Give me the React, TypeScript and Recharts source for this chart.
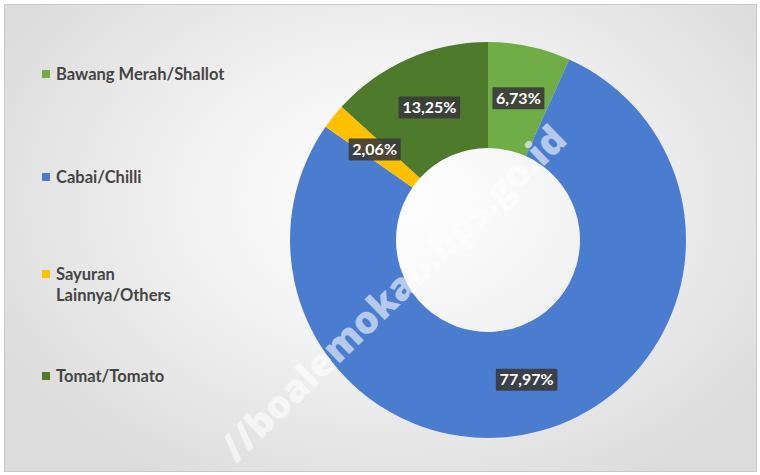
import { PieChart, Pie, Cell, Legend } from "recharts";

const categories = [
	"Bawang Merah/Shallot",
	"Cabai/Chilli",
	"Sayuran Lainnya/Others",
	"Tomat/Tomato",
];
const shares = [6.73, 77.97, 2.06, 13.25];
const colors = ["#70AD47", "#4A7DD0", "#FFC000", "#4E7A2C"];
const legendLines = [
	["Bawang Merah/Shallot"],
	["Cabai/Chilli"],
	["Sayuran", "Lainnya/Others"],
	["Tomat/Tomato"],
];

const data = categories.map((name, i) => ({ name, value: shares[i] }));

const RAD = Math.PI / 180;
const FONT = "Lato, 'Open Sans', sans-serif";

function renderLabel(props: any) {
	const { cx, cy, midAngle, innerRadius, outerRadius, value } = props;
	const r = (innerRadius + outerRadius) / 2;
	const x = cx + r * Math.cos(-midAngle * RAD);
	const y = cy + r * Math.sin(-midAngle * RAD);
	const text = value.toFixed(2).replace(".", ",") + "%";
	const w = text.length * 9.6 + 4;
	return (
		<g>
			<rect x={x - w / 2} y={y - 11} width={w} height={22} fill="#3a3a3a" fillOpacity={0.9} rx={1} />
			<text
				x={x}
				y={y + 5.5}
				textAnchor="middle"
				fill="#fff"
				fontFamily={FONT}
				fontWeight={700}
				fontSize={16}
			>
				{text}
			</text>
		</g>
	);
}

const legendTops = [63.5, 166.5, 263.5, 365.5];

function LegendBox(props: any) {
	const payload = props.payload || [];
	return (
		<div style={{ position: "relative", width: 0, height: 0 }}>
			{payload.map((entry: any, i: number) => (
				<div
					key={i}
					style={{
						position: "absolute",
						left: 42,
						top: legendTops[i],
						display: "flex",
						alignItems: "flex-start",
						whiteSpace: "nowrap",
					}}
				>
					<span
						style={{
							width: 8,
							height: 8,
							marginTop: 6.5,
							marginRight: 6,
							background: colors[i],
							display: "inline-block",
						}}
					/>
					<span
						style={{
							fontFamily: FONT,
							fontWeight: 700,
							fontSize: 16.5,
							lineHeight: "21px",
							color: "#454545",
						}}
					>
						{legendLines[i].map((l, j) => (
							<div key={j}>{l}</div>
						))}
					</span>
				</div>
			))}
		</div>
	);
}

export default function App() {
	return (
		<div
			style={{
				position: "fixed",
				left: 0,
				top: 0,
				width: 760,
				height: 475,
				background: "#fff",
				overflow: "hidden",
			}}
		>
			<div
				style={{
					position: "absolute",
					left: 4,
					top: 4,
					width: 751,
					height: 466,
					border: "1px solid #c8c8c8",
					background:
						"radial-gradient(ellipse 60% 70% at 52% 42%, #ffffff 0%, #f4f4f4 40%, #dcdcdc 100%)",
				}}
			/>
			<div style={{ position: "absolute", left: 0, top: 0 }}>
				<PieChart width={760} height={475} margin={{ top: 0, right: 0, bottom: 0, left: 0 }}>
					<Pie
						data={data}
						dataKey="value"
						nameKey="name"
						cx={488}
						cy={240}
						innerRadius={92}
						outerRadius={198}
						startAngle={90}
						endAngle={-270}
						stroke="none"
						label={renderLabel}
						labelLine={false}
						isAnimationActive={false}
					>
						{data.map((d, i) => (
							<Cell key={d.name} fill={colors[i]} />
						))}
					</Pie>
					<Legend
						layout="vertical"
						align="left"
						verticalAlign="top"
						content={<LegendBox />}
						wrapperStyle={{ left: 0, top: 0, width: 0, height: 0 }}
					/>
				</PieChart>
			</div>
			<div
				style={{
					position: "absolute",
					left: 392,
					top: 292,
					transform: "translate(-50%, -50%) rotate(-44deg)",
					fontFamily: "'Open Sans', sans-serif",
					fontWeight: 800,
					fontSize: 38,
					lineHeight: "44px",
					color: "rgba(255,255,255,0.6)",
					pointerEvents: "none",
					whiteSpace: "nowrap",
				}}
			>
				//boalemokab.bps.go.id
			</div>
		</div>
	);
}
